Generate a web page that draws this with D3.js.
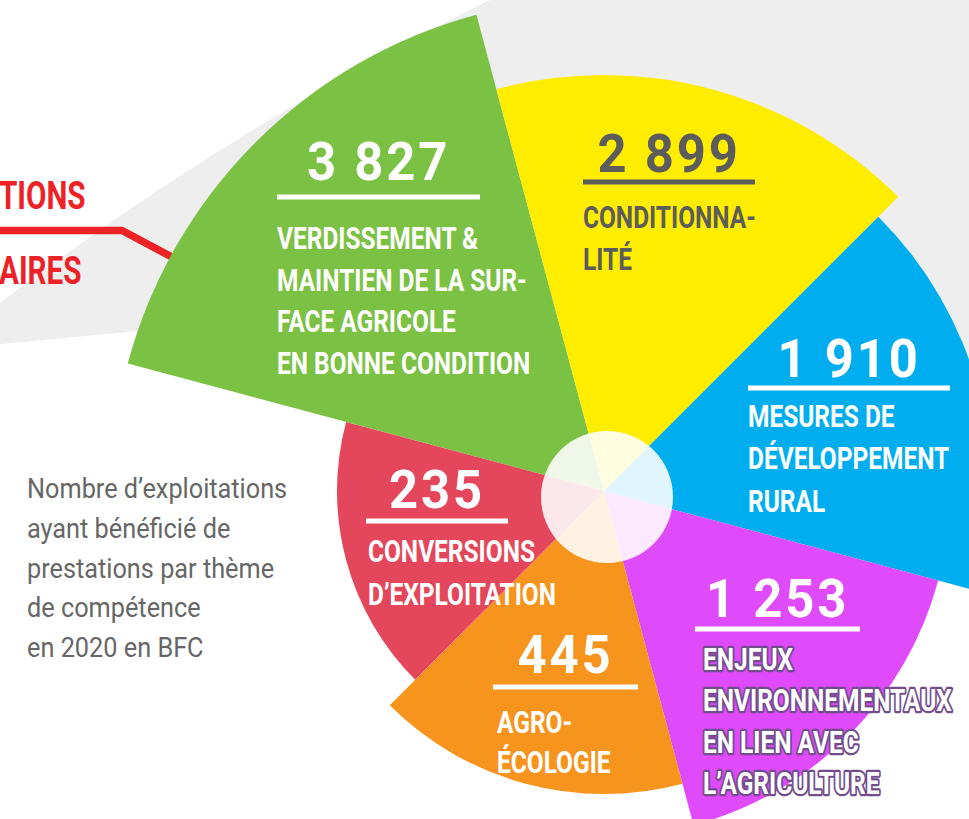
<!DOCTYPE html>
<html>
<head>
<meta charset="utf-8">
<script src="https://cdn.jsdelivr.net/npm/d3@7"></script>
<style>
  html, body { margin: 0; padding: 0; background: #ffffff; }
  svg { display: block; }
  text { font-family: Roboto, "DejaVu Sans", sans-serif; }
</style>
</head>
<body>
<svg id="chart" width="969" height="819"></svg>
<script>
// ---------------- DATA ----------------
const categories = [
  "Verdissement & maintien de la surface agricole en bonne condition",
  "Conditionnalité",
  "Mesures de développement rural",
  "Enjeux environnementaux en lien avec l’agriculture",
  "Agro-écologie",
  "Conversions d’exploitation"
];
const values = [3827, 2899, 1910, 1253, 445, 235];
const labelLines = [
  ["VERDISSEMENT &", "MAINTIEN DE LA SUR-", "FACE AGRICOLE", "EN BONNE CONDITION"],
  ["CONDITIONNA-", "LITÉ"],
  ["MESURES DE", "DÉVELOPPEMENT", "RURAL"],
  ["ENJEUX", "ENVIRONNEMENTAUX", "EN LIEN AVEC", "L’AGRICULTURE"],
  ["AGRO-", "ÉCOLOGIE"],
  ["CONVERSIONS", "D’EXPLOITATION"]
];
const captionLines = [
  "Nombre d’exploitations",
  "ayant bénéficié de",
  "prestations par thème",
  "de compétence",
  "en 2020 en BFC"
];
const calloutLines = ["TIONS", "AIRES"];

// ---------------- STYLE / LAYOUT ----------------
const colors = ["#7BC143", "#FFED00", "#00AEEF", "#DF4BFB", "#F7941D", "#E4475B"];
const numberColors = ["#ffffff", "#5C5C5C", "#ffffff", "#ffffff", "#ffffff", "#ffffff"];
const textColors = ["#ffffff", "#5C5C5C", "#ffffff", "#ffffff", "#ffffff", "#ffffff"];
const cx = 604, cy = 491;
// label anchors (annotation layout)
const layout = [
  {numY: 180, ulX: 277, ulY: 197, ulW: 203, txtX: 277, txtY: 249, gap: 41.7},
  {numY: 172, ulX: 583, ulY: 182, ulW: 172, txtX: 583, txtY: 228, gap: 42},
  {numY: 377, ulX: 748, ulY: 388, ulW: 202, txtX: 748, txtY: 427, gap: 42.3},
  {numY: 617, ulX: 695, ulY: 629, ulW: 165, txtX: 703, txtY: 670, gap: 41.3},
  {numY: 673, ulX: 493, ulY: 687, ulW: 145, txtX: 497, txtY: 733, gap: 39.5},
  {numY: 508, ulX: 366, ulY: 521, ulW: 142, txtX: 368, txtY: 562, gap: 42.5}
];

const svg = d3.select("#chart");

// background gray shape
svg.append("path")
  .attr("d", "M -60,350 A 2925 2925 0 0 1 490,0 L 969,0 L 969,470 L 604,491 L 138,331 Z")
  .attr("fill", "#EEEEEE");

// callout red line + text
svg.append("path")
  .attr("d", "M -5,230.5 L 122,230.5 L 200,272")
  .attr("fill", "none").attr("stroke", "#EC2227").attr("stroke-width", 7.5);

const calloutG = svg.append("g");
calloutLines.forEach((t, i) => {
  calloutG.append("g")
    .attr("transform", `translate(-1,${[209, 284][i]}) scale(0.78,1)`)
    .append("text")
    .attr("fill", "#EC2227")
    .attr("font-weight", 700)
    .attr("font-size", 38)
    .text(t);
});

// ---------------- RADIAL CHART ----------------
const sorted = values.slice().sort(d3.ascending);
const rScale = d3.scaleLinear()
  .domain(sorted)
  .range([267, 303, 346, 388, 416, 493]);

const pie = d3.pie()
  .value(() => 1)
  .sort(null)
  .startAngle(-75 * Math.PI / 180)
  .endAngle(285 * Math.PI / 180);

const arcs = pie(values);
const arcGen = d3.arc()
  .innerRadius(0)
  .outerRadius(d => rScale(d.data));

const g = svg.append("g").attr("transform", `translate(${cx},${cy})`);
g.selectAll("path.slice")
  .data(arcs)
  .join("path")
  .attr("class", "slice")
  .attr("d", arcGen)
  .attr("fill", (d, i) => colors[i]);

// centre disc
svg.append("circle")
  .attr("cx", cx + 3).attr("cy", cy + 6).attr("r", 66)
  .attr("fill", "#ffffff").attr("fill-opacity", 0.88);

// ---------------- LABELS ----------------
const fr = d3.formatLocale({decimal: ",", thousands: " ", grouping: [3], currency: ["", " €"]});
const fmt = fr.format(",d");

values.forEach((v, i) => {
  const L = layout[i];
  // number
  svg.append("g")
    .attr("transform", `translate(${L.ulX + L.ulW / 2},${L.numY}) scale(0.94,1)`)
    .append("text")
    .attr("text-anchor", "middle")
    .attr("fill", numberColors[i])
    .attr("font-weight", 700)
    .attr("font-size", 54)
    .attr("letter-spacing", 3)
    .text(fmt(v));
  // underline
  svg.append("rect")
    .attr("x", L.ulX).attr("y", L.ulY - 2.5)
    .attr("width", L.ulW).attr("height", 5)
    .attr("fill", numberColors[i]);
  // text lines
  labelLines[i].forEach((line, j) => {
    const t = svg.append("g")
      .attr("transform", `translate(${L.txtX},${L.txtY + j * L.gap}) scale(0.765,1)`)
      .append("text")
      .attr("fill", textColors[i])
      .attr("font-weight", 700)
      .attr("font-size", 32)
      .text(line);
    if (i === 3) {
      t.attr("stroke", "#724C8C").attr("stroke-width", 4.5)
       .attr("stroke-linejoin", "round").attr("paint-order", "stroke");
    }
  });
});

// caption
captionLines.forEach((line, j) => {
  svg.append("g")
    .attr("transform", `translate(27,${498 + j * 39.8}) scale(0.92,1)`)
    .append("text")
    .attr("fill", "#666666")
    .attr("font-weight", 400)
    .attr("font-size", 27.5)
    .text(line);
});
</script>
</body>
</html>
